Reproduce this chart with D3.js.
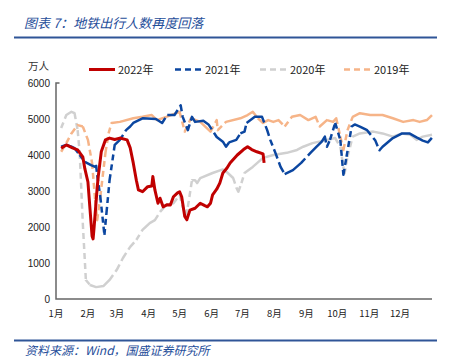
<!DOCTYPE html>
<meta charset="utf-8">
<style>
  body { margin: 0; background: #fff; }
  text { font-family: "Liberation Sans", "Noto Sans CJK SC", sans-serif; }
  .cn { font-family: "Noto Sans CJK SC", sans-serif; }
</style>
<body>
<script src="https://cdn.jsdelivr.net/npm/d3@7/dist/d3.min.js"></script>
<script>

    var width = 453,
        height = 363;

    // 月份刻度（按一年中的第几天）
    var monthStarts = [0, 31, 59, 90, 120, 151, 181, 212, 243, 273, 304, 334];
    var monthLabels = ["1月", "2月", "3月", "4月", "5月", "6月", "7月", "8月", "9月", "10月", "11月", "12月"];
    var yTicks = [0, 1000, 2000, 3000, 4000, 5000, 6000];

    // [第几天, 万人]
    var s2022 = [[5,4190],[10,4280],[16,4200],[21,4140],[26,3950],[28,3620],[31,3250],[33,2500],[35,1750],[36,1670],
        [37,2000],[40,3100],[41,3400],[44,4100],[48,4420],[52,4470],[57,4430],[62,4470],[69,4420],[72,4200],
        [75,3780],[78,3300],[80,3030],[84,2980],[89,3120],[93,3140],[94,3400],[96,3030],[99,2660],[101,2800],
        [104,2560],[108,2620],[111,2610],[114,2840],[118,2950],[120,2980],[122,2840],[125,2290],[127,2200],[130,2470],
        [135,2520],[140,2660],[144,2600],[147,2560],[150,2660],[152,2890],[156,3050],[159,3220],[162,3500],[166,3640],
        [169,3780],[176,4000],[182,4150],[186,4230],[190,4150],[195,4090],[201,4030],[202,3780]];

    var s2021 = [[5,4230],[10,4280],[15,4230],[18,4190],[23,4000],[28,3810],[34,3720],[38,3670],[39,3700],[40,3440],
        [43,2840],[47,1780],[49,2390],[52,3300],[57,4280],[62,4420],[68,4690],[72,4790],[75,4890],[84,5020],
        [97,5000],[103,4890],[108,5110],[115,5110],[121,5380],[123,5060],[128,4690],[132,5060],[135,4920],[143,4950],
        [148,4850],[156,4500],[162,4370],[165,4230],[168,4350],[175,4420],[179,4600],[183,4650],[185,4890],[193,5060],
        [200,5060],[205,4690],[208,4420],[213,4060],[218,3670],[222,3470],[230,3580],[238,3780],[247,4060],[253,4230],
        [258,4370],[261,4510],[263,4230],[266,4420],[271,4890],[276,4420],[279,3450],[282,3950],[287,4790],[290,4850],
        [295,4790],[302,4690],[310,4400],[314,4130],[317,4230],[327,4470],[336,4600],[343,4600],[350,4490],[356,4400],
        [361,4350],[365,4480]];

    var s2020 = [[5,4750],[10,5110],[15,5200],[18,5160],[21,4690],[23,4060],[26,2110],[29,530],[33,390],[39,330],
        [46,360],[52,530],[59,810],[65,1140],[72,1450],[78,1640],[84,1920],[91,2110],[96,2190],[101,2420],
        [107,2610],[114,2660],[120,2890],[123,2560],[126,2330],[128,2560],[132,3300],[135,3300],[137,3220],[140,3360],
        [152,3500],[162,3600],[166,3520],[172,3360],[175,3100],[177,2980],[180,3220],[183,3500],[191,3670],[201,3920],
        [211,4000],[224,4060],[234,4140],[240,4230],[249,4330],[263,4420],[271,4470],[276,4230],[280,3470],[283,3950],
        [288,4510],[295,4600],[308,4650],[317,4600],[327,4510],[336,4600],[344,4560],[350,4420],[356,4510],[365,4560]];

    var s2019 = [[5,4090],[10,4330],[15,4600],[21,4830],[26,4790],[31,4420],[35,3780],[38,2750],[40,2190],[43,2840],
        [48,4060],[51,4600],[54,4890],[62,4920],[75,5020],[84,5060],[93,5110],[98,4970],[107,5060],[120,5200],
        [125,4650],[131,5020],[140,4920],[150,4650],[156,4970],[157,4690],[165,4920],[179,5020],[186,5110],[191,5200],
        [196,5020],[201,4890],[206,4970],[211,4920],[216,4970],[222,4790],[229,5060],[237,5110],[245,4970],[252,5060],
        [256,4790],[263,4970],[269,4920],[272,5020],[276,4510],[279,4140],[283,4690],[288,5060],[295,5160],[305,5110],
        [317,5110],[327,5020],[337,4920],[347,4970],[353,4920],[360,4970],[365,5110]];

    var seriesNames = ["2022年", "2021年", "2020年", "2019年"];
    var seriesColors = ["#c00000", "#0b46a0", "#d0d0d0", "#f6b488"];

    var svg = d3.select("body").append("svg")
            .attr("width", width)
            .attr("height", height);

    var x = d3.scaleLinear().domain([0, 365]).range([56, 432]);
    var y = d3.scaleLinear().domain([0, 6000]).range([299, 83]);

    var blue = "#1f4e9a";

    // 标题和来源
    svg.append("text").attr("class", "cn")
            .attr("x", 24).attr("y", 28)
            .attr("fill", blue).attr("font-size", 13).attr("font-style", "italic")
            .text("图表 7：地铁出行人数再度回落");
    svg.append("line").attr("x1", 14).attr("x2", 437).attr("y1", 37.5).attr("y2", 37.5)
            .attr("stroke", "#2f5597").attr("stroke-width", 2);
    svg.append("line").attr("x1", 14).attr("x2", 437).attr("y1", 340.5).attr("y2", 340.5)
            .attr("stroke", "#2f5597").attr("stroke-width", 2);
    svg.append("text").attr("class", "cn")
            .attr("x", 25).attr("y", 355)
            .attr("fill", blue).attr("font-size", 12).attr("font-style", "italic")
            .text("资料来源：Wind，国盛证券研究所");

    svg.append("text").attr("class", "cn")
            .attr("x", 28).attr("y", 70)
            .attr("fill", "#333").attr("font-size", 10.5)
            .text("万人");

    // y 轴
    svg.selectAll(".ylab").data(yTicks).enter().append("text")
            .attr("x", 50).attr("y", function(d) { return y(d) + 3.5; })
            .attr("text-anchor", "end").attr("font-size", 10).attr("fill", "#222")
            .text(function(d) { return d; });
    svg.append("path")
            .attr("d", "M" + (x(0) + 3.5) + "," + y(6000) + "H" + x(0) + "V" + y(0) + "H" + x(365))
            .attr("fill", "none").attr("stroke", "#666").attr("stroke-width", 1.5);

    // x 轴月份
    svg.selectAll(".xlab").data(monthStarts).enter().append("text")
            .attr("class", "cn")
            .attr("x", function(d) { return x(d); }).attr("y", 317)
            .attr("text-anchor", "middle").attr("font-size", 9.5).attr("fill", "#222")
            .text(function(d, i) { return monthLabels[i]; });

    var line = d3.line()
            .x(function(d) { return x(d[0]); })
            .y(function(d) { return y(d[1]); });

    // 平缓的段画实线，陡的段才显出虚线（跟原图 Excel 效果接近）
    function dashArray(data) {
        var arr = [];
        d3.pairs(data).forEach(function(p) {
            var dx = x(p[1][0]) - x(p[0][0]),
                dy = Math.abs(y(p[1][1]) - y(p[0][1]));
            var len = Math.hypot(dx, dy);
            if (dy / dx <= 1) {
                arr.push(len, 0);
                return;
            }
            var rem = len;
            while (rem > 0) {
                var d = Math.min(6, rem); arr.push(d); rem -= d;
                var g = Math.min(4, rem); arr.push(g); rem -= g;
            }
        });
        return arr.map(function(v) { return v.toFixed(2); }).join(",");
    }

    function drawDashed(data, color, w) {
        svg.append("path").datum(data)
                .attr("d", line).attr("fill", "none")
                .attr("stroke", color).attr("stroke-width", w)
                .attr("stroke-linejoin", "round")
                .attr("stroke-dasharray", dashArray(data));
    }

    drawDashed(s2020, seriesColors[2], 2.5);
    drawDashed(s2019, seriesColors[3], 2.5);
    drawDashed(s2021, seriesColors[1], 2.5);

    svg.append("path").datum(s2022)
            .attr("d", line).attr("fill", "none")
            .attr("stroke", seriesColors[0]).attr("stroke-width", 3)
            .attr("stroke-linejoin", "round");

    // 图例
    var legX = [89, 175, 260, 344];
    seriesNames.forEach(function(name, i) {
        svg.append("line")
                .attr("x1", legX[i]).attr("x2", legX[i] + 26)
                .attr("y1", 69.5).attr("y2", 69.5)
                .attr("stroke", seriesColors[i]).attr("stroke-width", i === 0 ? 3 : 2.5)
                .attr("stroke-dasharray", i === 0 ? null : "6,4");
        svg.append("text").attr("class", "cn")
                .attr("x", legX[i] + (i === 0 ? 29 : 30)).attr("y", 73.5)
                .attr("font-size", 11).attr("fill", "#222")
                .text(name);
    });

</script>
